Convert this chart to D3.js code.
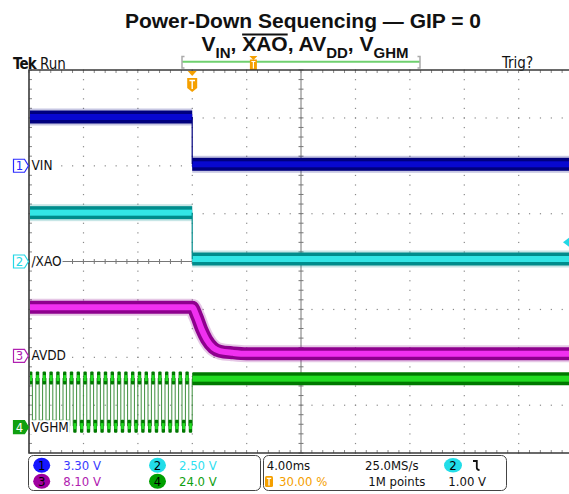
<!DOCTYPE html>
<html><head><meta charset="utf-8">
<script src="https://cdn.jsdelivr.net/npm/d3@7/dist/d3.min.js"></script>
<style>
html,body{margin:0;padding:0;background:#fff;}
svg{display:block;}
.tek{font-family:"DejaVu Sans Condensed","Liberation Sans Narrow","DejaVu Sans",sans-serif;}
.ttl{font-family:"Liberation Sans",Arial,sans-serif;font-weight:bold;}
</style></head><body>
<svg id="chart" width="569" height="494"></svg>
<script>
// ---------------- data ----------------
const timePerDivMs = 4.0;
const timeDomainMs = [-12, 28];           // 10 divisions, trigger at 30 %
const channelIds = [1, 2, 3, 4];
const channelNames = ["VIN", "/XAO", "AVDD", "VGHM"];
const voltsPerDiv = [3.30, 2.50, 8.10, 24.0];
const groundDiv = [2.0, 0.0, -1.97, -3.46];   // ground marker position, divisions from centre
// flat segments: [startMs, endMs, volts]
const vinSegments = [[-12, 0, 3.36], [0, 28, 0.10]];
const xaoSegments = [[-12, 0, 2.55], [0, 28, 0.13]];
// AVDD discharge curve
const avddTimes = [-12, 0, 0.33, 0.70, 1.06, 1.55, 2.04, 3.0, 4.0, 28];
const avddVolts = [8.2, 8.2, 6.7, 4.45, 2.76, 1.35, 0.78, 0.5, 0.35, 0.35];
// VGHM gate clock before power-down (one level per 0.25 ms half period), then steady level
const vghmHalfPeriodMs = 0.25;
const vghmLevels = [24.6,0.5,24.6,0.5,24.6,0.5,24.6,0.5,24.6,0.5,24.6,0.5,
                    24.6,0.5,24.6,0.5,24.6,0.5,24.6,0.5,24.6,0.5,24.6,0.5,
                    24.6,0.5,24.6,0.5,24.6,0.5,24.6,0.5,24.6,0.5,24.6,0.5,
                    24.6,0.5,24.6,0.5,24.6,0.5,24.6,0.5,24.6,0.5,24.6,0.5];
const vghmAfterSegment = [0, 28, 24.3];
// readouts
const sampleRateText = "25.0MS/s";
const recordText = "1M points";
const triggerPosText = "30.00 %";
const triggerLevelV = 1.00;
const triggerChannel = 2;

// ---------------- style ----------------
const chColor = ["#2a2aff", "#22d8e6", "#b020b0", "#10a010"];
const circleColor = ["#1616ff", "#22dde8", "#a000a0", "#00a000"];
const textColor = ["#3a3aff", "#30e0f0", "#b020b0", "#10a010"];
const outerCol = ["#00007e", "#008c8c", "#8e008e", "#007800"];
const innerCol = ["#0808d0", "#33e6e6", "#f030f0", "#22dd22"];
const orange = "#f5a000";

const svg = d3.select("#chart");
const L = 29, T = 70, B = 453, R = 573;
const x = d3.scaleLinear().domain(timeDomainMs).range([L, R]);
const divY = d3.scaleLinear().domain([-4, 4]).range([B, T]);
const yOf = (ci, v) => divY(groundDiv[ci] + v / voltsPerDiv[ci]);

// ---------------- title ----------------
svg.append("text").attr("class", "ttl").attr("x", 303).attr("y", 28)
  .attr("text-anchor", "middle").attr("font-size", 21).attr("fill", "#111")
  .text("Power-Down Sequencing \u2014 GIP = 0");
const t2 = svg.append("text").attr("class", "ttl").attr("x", 305).attr("y", 51)
  .attr("text-anchor", "middle").attr("font-size", 21).attr("fill", "#111");
t2.append("tspan").text("V");
t2.append("tspan").attr("font-size", 15).attr("dy", 6.5).text("IN");
t2.append("tspan").attr("dy", -6.5).text(", XAO, AV");
t2.append("tspan").attr("font-size", 15).attr("dy", 6.5).text("DD");
t2.append("tspan").attr("dy", -6.5).text(", V");
t2.append("tspan").attr("font-size", 15).attr("dy", 6.5).text("GHM");
{
  const n = t2.node();
  const full = n.textContent;
  const i0 = full.indexOf("XAO");
  const x0 = n.getStartPositionOfChar(i0).x;
  const x1 = n.getEndPositionOfChar(i0 + 2).x;
  svg.append("line").attr("x1", x0).attr("x2", x1).attr("y1", 34.5).attr("y2", 34.5)
    .attr("stroke", "#111").attr("stroke-width", 2);
}

// ---------------- header ----------------
svg.append("text").attr("class", "tek").attr("x", 13).attr("y", 69)
  .attr("font-size", 15).attr("font-weight", "bold").attr("letter-spacing", -0.8).attr("fill", "#111").text("Tek");
svg.append("text").attr("class", "tek").attr("x", 40).attr("y", 68.5)
  .attr("font-size", 15).attr("fill", "#111").text("Run");
svg.append("text").attr("class", "tek").attr("x", 502).attr("y", 67.5)
  .attr("font-size", 15).attr("fill", "#111").text("Trig?");
// record view bar
svg.append("line").attr("x1", 182).attr("x2", 420).attr("y1", 61.7).attr("y2", 61.7)
  .attr("stroke", "#6fd06f").attr("stroke-width", 2);
[[182, 1], [420, -1]].forEach(([bx, d]) => {
  svg.append("path").attr("d", `M${bx + 2.5 * d},56.5 H${bx} V68 H${bx + 2.5 * d}`)
    .attr("fill", "none").attr("stroke", "#aaa").attr("stroke-width", 1.5);
});
const recX = 182 + (420 - 182) * 0.30;
svg.append("path").attr("d", `M${recX - 4},56 H${recX + 4} L${recX},60 Z`).attr("fill", orange);
svg.append("rect").attr("x", recX - 3.5).attr("y", 59.5).attr("width", 7).attr("height", 10.5).attr("fill", orange);
svg.append("path").attr("d", `M${recX - 2},61.5 H${recX + 2} M${recX},61.5 V68.5`).attr("stroke", "#fff").attr("stroke-width", 1.2);

// ---------------- graticule ----------------
const g = svg.append("g");
const minorT = d3.range(timeDomainMs[0], timeDomainMs[1] + 0.001, timePerDivMs / 5);
const minorD = d3.range(-4, 4.001, 0.2);
const majorT = d3.range(1, 10).map(k => timeDomainMs[0] + k * timePerDivMs).filter(t => Math.abs(t - 8) > 1e-6);
const majorD = [-3, -2, -1, 1, 2, 3];
// dotted grid
majorT.forEach(t => minorD.forEach(d => g.append("rect").attr("x", x(t) - 0.5).attr("y", divY(d) - 0.5)
  .attr("width", 1.2).attr("height", 1.2).attr("fill", "#8a8a8a")));
majorD.forEach(d => minorT.forEach(t => g.append("rect").attr("x", x(t) - 0.5).attr("y", divY(d) - 0.5)
  .attr("width", 1.2).attr("height", 1.2).attr("fill", "#8a8a8a")));
// centre lines
const cx = x(8), cy = divY(0);
g.append("line").attr("x1", L).attr("x2", 569).attr("y1", cy).attr("y2", cy).attr("stroke", "#777").attr("stroke-width", 1);
g.append("line").attr("x1", cx).attr("x2", cx).attr("y1", T).attr("y2", B).attr("stroke", "#777").attr("stroke-width", 1);
minorT.forEach(t => g.append("line").attr("x1", x(t)).attr("x2", x(t)).attr("y1", cy - 2.5).attr("y2", cy + 2.5).attr("stroke", "#777"));
minorD.forEach(d => g.append("line").attr("x1", cx - 2.5).attr("x2", cx + 2.5).attr("y1", divY(d)).attr("y2", divY(d)).attr("stroke", "#777"));
// border ticks
minorT.forEach(t => {
  g.append("line").attr("x1", x(t)).attr("x2", x(t)).attr("y1", T).attr("y2", T + 3).attr("stroke", "#888");
  g.append("line").attr("x1", x(t)).attr("x2", x(t)).attr("y1", B).attr("y2", B - 3).attr("stroke", "#888");
});
minorD.forEach(d => g.append("line").attr("x1", L).attr("x2", L + 3).attr("y1", divY(d)).attr("y2", divY(d)).attr("stroke", "#888"));
// border
g.append("path").attr("d", `M569,${T} H${L} V${B} H569`).attr("fill", "none").attr("stroke", "#3a3a3a").attr("stroke-width", 1.6);

// ---------------- traces ----------------
svg.append("clipPath").attr("id", "plotclip").append("rect")
  .attr("x", L + 1).attr("y", T + 1).attr("width", 569 - L).attr("height", B - T - 2);
const tr = svg.append("g").attr("clip-path", "url(#plotclip)");

function band(ci, segs) {
  segs.forEach(([t0, t1, v]) => {
    tr.append("rect").attr("x", x(t0)).attr("width", x(t1) - x(t0))
      .attr("y", yOf(ci, v) - 8.5).attr("height", 17).attr("fill", outerCol[ci]).attr("opacity", 0.22);
    tr.append("rect").attr("x", x(t0)).attr("width", x(t1) - x(t0))
      .attr("y", yOf(ci, v) - 6.5).attr("height", 13).attr("fill", outerCol[ci]);
    tr.append("rect").attr("x", x(t0)).attr("width", x(t1) - x(t0))
      .attr("y", yOf(ci, v) - 3).attr("height", 6).attr("fill", innerCol[ci]);
  });
  for (let i = 1; i < segs.length; i++) {
    const t = segs[i][0];
    tr.append("line").attr("x1", x(t)).attr("x2", x(t))
      .attr("y1", yOf(ci, segs[i - 1][2])).attr("y2", yOf(ci, segs[i][2]))
      .attr("stroke", outerCol[ci]).attr("stroke-width", 1.2);
  }
}
band(0, vinSegments);
band(1, xaoSegments);

// AVDD curve
const avddPts = avddTimes.map((t, i) => [t, avddVolts[i]]);
const avLine = d3.line().x(d => x(d[0])).y(d => yOf(2, d[1])).curve(d3.curveMonotoneX);
tr.append("path").attr("d", avLine(avddPts)).attr("fill", "none").attr("stroke", outerCol[2]).attr("stroke-width", 17).attr("opacity", 0.22);
tr.append("path").attr("d", avLine(avddPts)).attr("fill", "none").attr("stroke", outerCol[2]).attr("stroke-width", 13);
tr.append("path").attr("d", avLine(avddPts)).attr("fill", "none").attr("stroke", innerCol[2]).attr("stroke-width", 6);

// VGHM
const vghmSegs = vghmLevels.map((v, i) => [timeDomainMs[0] + i * vghmHalfPeriodMs, timeDomainMs[0] + (i + 1) * vghmHalfPeriodMs, v]);
vghmSegs.push(vghmAfterSegment);
for (let i = 1; i < vghmSegs.length; i++) {
  const t = vghmSegs[i][0];
  tr.append("line").attr("x1", x(t)).attr("x2", x(t))
    .attr("y1", yOf(3, vghmSegs[i - 1][2])).attr("y2", yOf(3, vghmSegs[i][2]))
    .attr("stroke", "#3d8f3d").attr("stroke-width", 1);
}
vghmSegs.forEach(([t0, t1, v]) => {
  tr.append("rect").attr("x", x(t0)).attr("width", x(t1) - x(t0))
    .attr("y", yOf(3, v) - 6.5).attr("height", 13).attr("rx", 1).attr("fill", outerCol[3]);
  tr.append("rect").attr("x", x(t0) + 0.4).attr("width", Math.max(0, x(t1) - x(t0) - 0.8))
    .attr("y", yOf(3, v) - 3).attr("height", 6).attr("fill", innerCol[3]);
});

// ---------------- channel markers & labels ----------------
channelIds.forEach((id, ci) => {
  const my = divY(groundDiv[ci]);
  const filled = id === 4;
  svg.append("path").attr("d", `M13.5,${my - 6.5} H24.5 L28.5,${my} L24.5,${my + 6.5} H13.5 Z`)
    .attr("fill", filled ? chColor[ci] : "#fff").attr("stroke", chColor[ci]).attr("stroke-width", 1.2);
  svg.append("text").attr("class", "tek").attr("x", 19.5).attr("y", my + 4.6).attr("text-anchor", "middle")
    .attr("font-size", 13).attr("fill", filled ? "#fff" : chColor[ci]).text(id);
  const lbl = svg.append("text").attr("class", "tek").attr("x", 31.5).attr("y", my + 4.6)
    .attr("font-size", 13.5).attr("fill", "#111").text(channelNames[ci]);
  const w = lbl.node().getComputedTextLength();
  svg.insert("rect", () => lbl.node()).attr("x", 30).attr("y", my - 7).attr("width", w + 2.5).attr("height", 14).attr("fill", "#fff");
});

// trigger position marker
const tx = x(0);
svg.append("path").attr("d", `M${tx - 4.5},71 H${tx + 4.5} L${tx},76 Z`).attr("fill", orange);
svg.append("path").attr("d", `M${tx - 5},78 H${tx + 5} V88 L${tx},92 L${tx - 5},88 Z`).attr("fill", orange);
svg.append("path").attr("d", `M${tx - 2.8},80.5 H${tx + 2.8} M${tx},80.5 V89`).attr("stroke", "#fff").attr("stroke-width", 1.4);
// trigger level marker (ch2)
const tly = yOf(triggerChannel - 1, triggerLevelV);
svg.append("path").attr("d", `M563,${tly} L569,${tly - 4.5} V${tly + 4.5} Z`).attr("fill", chColor[1]);

// ---------------- readout panel ----------------
const fmt3 = d3.format(".3r");
svg.append("rect").attr("x", 28.5).attr("y", 455.5).attr("width", 232).attr("height", 35).attr("rx", 5)
  .attr("fill", "#fff").attr("stroke", "#444").attr("stroke-width", 1);
svg.append("rect").attr("x", 263.5).attr("y", 455.5).attr("width", 243).attr("height", 35).attr("rx", 5)
  .attr("fill", "#fff").attr("stroke", "#444").attr("stroke-width", 1);
const slot = [[41.7, 465.3], [157.5, 465.3], [41.7, 481.3], [157.5, 481.3]];
channelIds.forEach((id, ci) => {
  const [ccx, ccy] = slot[ci];
  svg.append("ellipse").attr("cx", ccx).attr("cy", ccy).attr("rx", 8.5).attr("ry", 7.5).attr("fill", circleColor[ci]);
  svg.append("text").attr("class", "tek").attr("x", ccx).attr("y", ccy + 4.5).attr("text-anchor", "middle")
    .attr("font-size", 13).attr("fill", "#000").text(id);
  svg.append("text").attr("class", "tek").attr("x", ccx + 21.5).attr("y", ccy + 4.6)
    .attr("font-size", 13).attr("fill", textColor[ci]).text(fmt3(voltsPerDiv[ci]) + " V");
});
svg.append("text").attr("class", "tek").attr("x", 266.7).attr("y", 469.7).attr("font-size", 13).attr("fill", "#111")
  .text(fmt3(timePerDivMs) + "ms");
svg.append("text").attr("class", "tek").attr("x", 365).attr("y", 469.7).attr("font-size", 13).attr("fill", "#111")
  .text(sampleRateText);
svg.append("ellipse").attr("cx", 453).attr("cy", 465.3).attr("rx", 9).attr("ry", 7.3).attr("fill", circleColor[1]);
svg.append("text").attr("class", "tek").attr("x", 453).attr("y", 469.8).attr("text-anchor", "middle")
  .attr("font-size", 13).attr("fill", "#000").text(triggerChannel);
svg.append("path").attr("d", "M473,461 H476.8 V467.8 Q476.8,470 479.5,470").attr("fill", "none")
  .attr("stroke", "#111").attr("stroke-width", 1.8);
svg.append("rect").attr("x", 265).attr("y", 476).attr("width", 8).attr("height", 11).attr("rx", 1.5).attr("fill", orange);
svg.append("path").attr("d", "M266.8,478.3 H271.2 M269,478.3 V485.5").attr("stroke", "#fff").attr("stroke-width", 1.3);
svg.append("text").attr("class", "tek").attr("x", 279).attr("y", 485.7).attr("font-size", 13).attr("fill", orange)
  .text(triggerPosText);
svg.append("text").attr("class", "tek").attr("x", 368.3).attr("y", 485.7).attr("font-size", 13).attr("fill", "#111")
  .text(recordText);
svg.append("text").attr("class", "tek").attr("x", 448.3).attr("y", 485.7).attr("font-size", 13).attr("fill", "#111")
  .text(d3.format(".2f")(triggerLevelV) + " V");
</script>
</body></html>
